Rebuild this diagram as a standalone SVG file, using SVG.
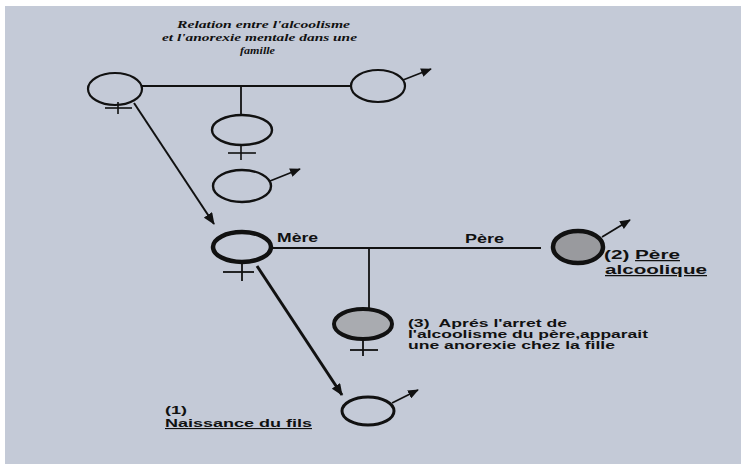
<svg xmlns="http://www.w3.org/2000/svg" width="741" height="464" viewBox="0 0 741 464">
<defs>
<marker id="ah" viewBox="0 0 12 10" refX="11" refY="5" markerWidth="12" markerHeight="10" markerUnits="userSpaceOnUse" orient="auto"><path d="M0,0 L12,5 L0,10 z" fill="#111"/></marker>
<marker id="ahs" viewBox="0 0 12 10" refX="11" refY="5" markerWidth="11" markerHeight="9" markerUnits="userSpaceOnUse" orient="auto"><path d="M0,0 L12,5 L0,10 z" fill="#111"/></marker>
<style>
.bg{fill:#c4cad7}
.c{fill:none;stroke:#111}
.ln{stroke:#111;fill:none}
.title{font-family:"Liberation Serif",serif;font-weight:bold;font-style:italic;font-size:11px;fill:#111}
.lab{font-family:"Liberation Sans",Arial,sans-serif;font-weight:bold;font-size:12px;fill:#111}
.u{text-decoration:underline}
</style>
</defs>
<rect width="741" height="464" fill="#ffffff"/>
<rect class="bg" x="5" y="6" width="736" height="458"/>

<g id="title">
<text class="title" x="177" y="28" textLength="173" lengthAdjust="spacingAndGlyphs">Relation entre l'alcoolisme</text>
<text class="title" x="162" y="41" textLength="195" lengthAdjust="spacingAndGlyphs">et l'anorexie mentale dans une</text>
<text class="title" x="240" y="54" textLength="35" lengthAdjust="spacingAndGlyphs">famille</text>
</g>

<g id="connectors">
<line class="ln" x1="142" y1="86" x2="351" y2="86" stroke-width="1.8"/>
<line class="ln" x1="241" y1="86" x2="241" y2="115" stroke-width="1.8"/>
<line class="ln" x1="134" y1="103" x2="214" y2="224" stroke-width="2" marker-end="url(#ah)"/>
<line class="ln" x1="272" y1="248" x2="541" y2="248" stroke-width="1.8"/>
<line class="ln" x1="369" y1="248" x2="369" y2="308" stroke-width="1.8"/>
<line class="ln" x1="257" y1="266" x2="342" y2="395" stroke-width="3" marker-end="url(#ah)"/>
</g>

<g id="grandmother">
<ellipse class="c" cx="115" cy="89" rx="27" ry="16" stroke-width="2.2"/>
<line class="ln" x1="118" y1="102" x2="118" y2="114" stroke-width="1.6"/>
<line class="ln" x1="105" y1="108" x2="132" y2="108" stroke-width="1.6"/>
</g>

<g id="grandfather">
<ellipse class="c" cx="378" cy="86" rx="27" ry="16" stroke-width="2.2"/>
<line class="ln" x1="403" y1="80" x2="431" y2="69" stroke-width="1.6" marker-end="url(#ahs)"/>
</g>

<g id="aunt">
<ellipse class="c" cx="242" cy="130" rx="30" ry="15" stroke-width="2.4"/>
<line class="ln" x1="241" y1="145" x2="241" y2="160" stroke-width="1.6"/>
<line class="ln" x1="228" y1="153" x2="256" y2="153" stroke-width="1.6"/>
</g>

<g id="uncle">
<ellipse class="c" cx="242" cy="186" rx="29" ry="16" stroke-width="2.4"/>
<line class="ln" x1="270" y1="181" x2="300" y2="169" stroke-width="1.8" marker-end="url(#ahs)"/>
</g>

<g id="mother">
<ellipse class="c" cx="242" cy="247" rx="29" ry="15" stroke-width="4.5"/>
<line class="ln" x1="242" y1="262" x2="242" y2="281" stroke-width="1.8"/>
<line class="ln" x1="223" y1="272" x2="254" y2="272" stroke-width="1.8"/>
<text class="lab" x="277" y="242" textLength="41" lengthAdjust="spacingAndGlyphs">Mère</text>
</g>

<g id="father">
<text class="lab" x="465" y="243" textLength="39" lengthAdjust="spacingAndGlyphs">Père</text>
<ellipse cx="578" cy="247" rx="25" ry="16" fill="#999a9e" stroke="#111" stroke-width="4.5"/>
<line class="ln" x1="602" y1="237" x2="630" y2="220" stroke-width="1.8" marker-end="url(#ahs)"/>
<text class="lab" x="604" y="259" textLength="76" lengthAdjust="spacingAndGlyphs" style="font-size:12.5px">(2) <tspan class="u">Père</tspan></text>
<text class="lab u" x="605" y="274" textLength="102" lengthAdjust="spacingAndGlyphs" style="font-size:12.5px">alcoolique</text>
</g>

<g id="daughter">
<ellipse cx="363" cy="324" rx="29" ry="15" fill="#a9abb0" stroke="#111" stroke-width="4"/>
<line class="ln" x1="363" y1="339" x2="363" y2="356" stroke-width="1.8"/>
<line class="ln" x1="350" y1="350" x2="378" y2="350" stroke-width="1.8"/>
<text class="lab" x="408" y="327" textLength="159" lengthAdjust="spacingAndGlyphs" xml:space="preserve" style="font-size:11.5px">(3)  Aprés l'arret de</text>
<text class="lab" x="408" y="338" textLength="240" lengthAdjust="spacingAndGlyphs" style="font-size:11.5px">l'alcoolisme du père,apparait</text>
<text class="lab" x="408" y="349" textLength="207" lengthAdjust="spacingAndGlyphs" style="font-size:11.5px">une anorexie chez la fille</text>
</g>

<g id="son">
<ellipse class="c" cx="368" cy="411" rx="26" ry="14" stroke-width="3"/>
<line class="ln" x1="392" y1="403" x2="418" y2="390" stroke-width="1.8" marker-end="url(#ahs)"/>
<text class="lab" x="165" y="414" textLength="22" lengthAdjust="spacingAndGlyphs" style="font-size:11px">(1)</text>
<text class="lab u" x="165" y="427" textLength="147" lengthAdjust="spacingAndGlyphs" style="font-size:11px">Naissance du fils</text>
</g>
</svg>
